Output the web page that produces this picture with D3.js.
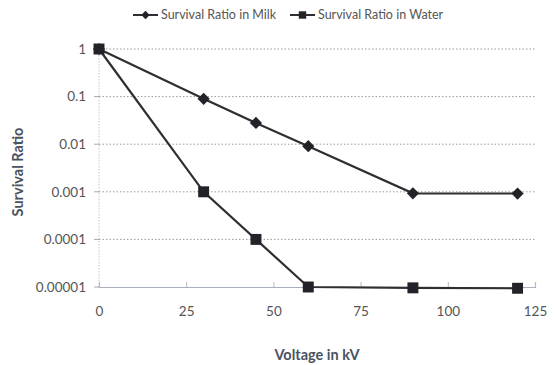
<!DOCTYPE html>
<html>
<head>
<meta charset="utf-8">
<script src="https://cdn.jsdelivr.net/npm/d3@7"></script>
<style>
  body { margin: 0; background: #fff; }
  text { font-family: Lato, "Open Sans", sans-serif; }
</style>
</head>
<body>
<div id="chart"></div>
<script>
// voltage (kV) on x, survival ratio on a log y axis
const voltages = [0, 30, 45, 60, 90, 120];
const milkRatio = [1, 0.09, 0.028, 0.0091, 0.00093, 0.00092];
const waterRatio = [1, 0.001, 0.0001, 0.00001, 0.0000096, 0.0000094];
const xTicks = [0, 25, 50, 75, 100, 125];
const yTicks = [1, 0.1, 0.01, 0.001, 0.0001, 0.00001];
const yTickLabels = ["1", "0.1", "0.01", "0.001", "0.0001", "0.00001"];
const seriesNames = ["Survival Ratio in Milk", "Survival Ratio in Water"];

const width = 556, height = 365;
const margin = {top: 49, right: 21, bottom: 78, left: 99};

const svg = d3.select("#chart").append("svg")
    .attr("width", width)
    .attr("height", height);

const x = d3.scaleLinear().domain([0, 125]).range([margin.left, width - margin.right]);
const y = d3.scaleLog().domain([0.00001, 1]).range([height - margin.bottom, margin.top]);

// dotted grid lines, one per decade
svg.append("g")
    .selectAll("line")
    .data(yTicks.slice(0, -1))
    .join("line")
    .attr("x1", x(0))
    .attr("x2", x(125))
    .attr("y1", d => y(d))
    .attr("y2", d => y(d))
    .style("stroke", "#9a9a9a")
    .style("stroke-width", 1)
    .style("stroke-dasharray", "1.5,2");

// left axis line (light) with ticks
svg.append("line")
    .attr("x1", x(0)).attr("x2", x(0))
    .attr("y1", y(1)).attr("y2", y(0.00001))
    .style("stroke", "#c8c8c8")
    .style("stroke-dasharray", "1.5,1.5");

svg.append("g")
    .selectAll("line")
    .data(yTicks)
    .join("line")
    .attr("x1", x(0) - 5).attr("x2", x(0))
    .attr("y1", d => y(d)).attr("y2", d => y(d))
    .style("stroke", "#aaa");

svg.append("g")
    .selectAll("text")
    .data(yTicks)
    .join("text")
    .attr("x", x(0) - 13)
    .attr("y", d => y(d))
    .attr("dy", "0.35em")
    .attr("text-anchor", "end")
    .style("font-size", "13.5px")
    .style("fill", "#555")
    .text((d, i) => yTickLabels[i]);

// bottom axis
const xAxis = svg.append("g")
    .attr("transform", `translate(0,${y(0.00001)})`)
    .call(d3.axisBottom(x).tickValues(xTicks).tickSize(-5).tickPadding(19));
xAxis.select(".domain").style("stroke", "#a9b0bd").style("stroke-width", 1.2);
xAxis.selectAll(".tick line").style("stroke", "#bbb");
xAxis.selectAll(".tick text")
    .style("font-family", "Lato, 'Open Sans', sans-serif")
    .style("font-size", "13.5px")
    .style("fill", "#555");

// axis titles
svg.append("text")
    .attr("x", x(62.5))
    .attr("y", 360)
    .attr("text-anchor", "middle")
    .style("font-size", "14.5px")
    .style("font-weight", "bold")
    .style("fill", "#4a5260")
    .text("Voltage in kV");

svg.append("text")
    .attr("transform", `translate(23,${(y(1) + y(0.00001)) / 2 + 4}) rotate(-90)`)
    .attr("text-anchor", "middle")
    .style("font-size", "14.5px")
    .style("font-weight", "bold")
    .style("fill", "#4a5260")
    .text("Survival Ratio");

const line = d3.line()
    .x(d => x(d[0]))
    .y(d => y(d[1]));

const milk = voltages.map((v, i) => [v, milkRatio[i]]);
const water = voltages.map((v, i) => [v, waterRatio[i]]);

[milk, water].forEach(s => {
    svg.append("path")
        .datum(s)
        .attr("d", line)
        .style("fill", "none")
        .style("stroke", "#2e2e33")
        .style("stroke-width", 2.2);
});

const diamond = d3.symbol().type(d3.symbolDiamond2).size(95);
const square = d3.symbol().type(d3.symbolSquare).size(120);

svg.append("g")
    .selectAll("path")
    .data(milk)
    .join("path")
    .attr("transform", d => `translate(${x(d[0])},${y(d[1])})`)
    .attr("d", diamond)
    .style("fill", "#222228");

svg.append("g")
    .selectAll("path")
    .data(water)
    .join("path")
    .attr("transform", d => `translate(${x(d[0])},${y(d[1])})`)
    .attr("d", square)
    .style("fill", "#222228");

// legend
const legend = svg.append("g");
const legendX = [133, 290];
[diamond, square].forEach((sym, i) => {
    let g = legend.append("g").attr("transform", `translate(${legendX[i]},15)`);
    g.append("line")
        .attr("x1", 0).attr("x2", 25)
        .style("stroke", "#2e2e33")
        .style("stroke-width", 2);
    g.append("path")
        .attr("transform", "translate(12.5,0)")
        .attr("d", d3.symbol().type(i === 0 ? d3.symbolDiamond2 : d3.symbolSquare).size(i === 0 ? 45 : 55))
        .style("fill", "#222228");
    g.append("text")
        .attr("x", 28)
        .attr("dy", "0.35em")
        .style("font-size", "12.5px")
        .style("fill", "#555")
        .text(seriesNames[i]);
});
</script>
</body>
</html>
